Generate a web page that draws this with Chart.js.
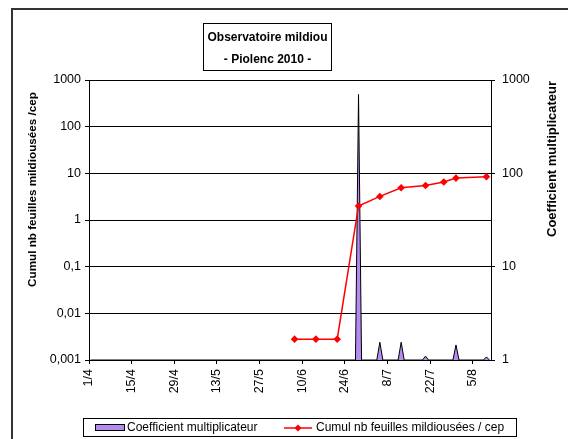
<!DOCTYPE html>
<html><head><meta charset="utf-8">
<script src="https://cdn.jsdelivr.net/npm/chart.js@4/dist/chart.umd.min.js"></script>
<style>html,body{margin:0;padding:0;background:#fff;overflow:hidden}#wrap{width:568px;height:439px;position:relative}canvas{display:block}</style>
</head><body><div id="wrap"><canvas id="c" width="568" height="439" style="width:568px;height:439px"></canvas></div>
<script>
const chartTitle = ['Observatoire mildiou', '- Piolenc 2010 -'];
const leftAxisTitle = 'Cumul nb feuilles mildiousées /cep';
const rightAxisTitle = 'Coefficient multiplicateur';
const seriesNames = ['Coefficient multiplicateur', 'Cumul nb feuilles mildiousées / cep'];
const axisFirstDate = '1/4';
const axisLastDate = '10/8';
const xTickLabels = ['1/4','15/4','29/4','13/5','27/5','10/6','24/6','8/7','22/7','5/8'];
const leftTickValues = [0.001, 0.01, 0.1, 1, 10, 100, 1000];
const leftTickLabels = ['0,001','0,01','0,1','1','10','100','1000'];
const rightTickValues = [1, 10, 100, 1000];
const rightTickLabels = ['1','10','100','1000'];
const coefDates = ['1/4','27/6','28/6','29/6','4/7','5/7','6/7','11/7','12/7','13/7','19/7','20/7','21/7','29/7','30/7','31/7','8/8','9/8','10/8'];
const coefValues = [1, 1, 700, 1, 1, 1.55, 1, 1, 1.55, 1, 1, 1.1, 1, 1, 1.45, 1, 1, 1.08, 1];
const cumulDates = ['7/6','14/6','21/6','28/6','5/7','12/7','20/7','26/7','30/7','9/8'];
const cumulValues = [0.0028, 0.0028, 0.0028, 2, 3.2, 4.9, 5.5, 6.5, 7.9, 8.5];

const FONT = "'Liberation Sans', Arial, sans-serif";
const AREA_COLOR = '#B48CF0';

function dayIndex(s) {
  const [d, m] = s.split('/').map(Number);
  const [d0, m0] = axisFirstDate.split('/').map(Number);
  return Math.round((Date.UTC(2010, m - 1, d) - Date.UTC(2010, m0 - 1, d0)) / 86400000);
}
const xMax = dayIndex(axisLastDate) + 1;
const xTickValues = xTickLabels.map(dayIndex);

const coefData = coefDates.map((d, i) => ({ x: dayIndex(d) + 0.5, y: coefValues[i] }));
const cumulData = cumulDates.map((d, i) => ({ x: dayIndex(d) + 0.5, y: cumulValues[i] }));

const decor = {
  id: 'decor',
  afterDraw(chart) {
    const ctx = chart.ctx;
    ctx.save();
    ctx.strokeStyle = '#333';
    ctx.lineWidth = 2;
    ctx.beginPath();
    ctx.moveTo(12, 439); ctx.lineTo(12, 9); ctx.lineTo(568, 9);
    ctx.stroke();
    ctx.lineWidth = 1;
    ctx.strokeStyle = '#000';
    ctx.fillStyle = '#fff';
    ctx.fillRect(203.5, 23.5, 128, 47);
    ctx.strokeRect(203.5, 23.5, 128, 47);
    ctx.fillStyle = '#000';
    ctx.font = 'bold 12px ' + FONT;
    ctx.textAlign = 'center';
    ctx.textBaseline = 'alphabetic';
    ctx.fillText(chartTitle[0], 267.5, 41);
    ctx.fillText(chartTitle[1], 267.5, 63);
    ctx.textBaseline = 'middle';
    ctx.font = 'bold 11.7px ' + FONT;
    ctx.save();
    ctx.translate(33, 189.5); ctx.rotate(-Math.PI / 2);
    ctx.fillText(leftAxisTitle, 0, 0);
    ctx.restore();
    ctx.font = 'bold 13px ' + FONT;
    ctx.save();
    ctx.translate(552, 159); ctx.rotate(-Math.PI / 2);
    ctx.fillText(rightAxisTitle, 0, 0);
    ctx.restore();
    ctx.strokeStyle = '#000';
    ctx.fillStyle = '#fff';
    ctx.fillRect(83.5, 418.5, 433, 18);
    ctx.strokeRect(83.5, 418.5, 433, 18);
    ctx.fillStyle = AREA_COLOR;
    ctx.fillRect(95.5, 424.5, 29, 6);
    ctx.strokeRect(95.5, 424.5, 29, 6);
    ctx.fillStyle = '#000';
    ctx.font = '12px ' + FONT;
    ctx.textAlign = 'left';
    ctx.fillText(seriesNames[0], 127, 428);
    ctx.strokeStyle = '#FF0000';
    ctx.lineWidth = 1.5;
    ctx.beginPath(); ctx.moveTo(284, 428); ctx.lineTo(312, 428); ctx.stroke();
    ctx.fillStyle = '#FF0000';
    ctx.beginPath();
    ctx.moveTo(298, 424.5); ctx.lineTo(301.5, 428); ctx.lineTo(298, 431.5); ctx.lineTo(294.5, 428); ctx.closePath();
    ctx.fill();
    ctx.fillStyle = '#000';
    ctx.fillText(seriesNames[1], 316, 428);
    ctx.restore();
  }
};

new Chart(document.getElementById('c'), {
  type: 'line',
  data: {
    datasets: [
      {
        label: seriesNames[1],
        data: cumulData,
        yAxisID: 'y',
        borderColor: '#FF0000',
        backgroundColor: '#FF0000',
        borderWidth: 1.5,
        pointStyle: 'rectRot',
        pointRadius: 3.8,
        pointBackgroundColor: '#FF0000',
        pointBorderColor: '#FF0000',
        pointBorderWidth: 0,
        fill: false,
        tension: 0,
        order: 0
      },
      {
        label: seriesNames[0],
        data: coefData,
        yAxisID: 'y1',
        borderColor: '#000',
        backgroundColor: AREA_COLOR,
        borderWidth: 1,
        pointRadius: 0,
        fill: 'start',
        tension: 0,
        order: 1
      }
    ]
  },
  options: {
    responsive: false,
    maintainAspectRatio: false,
    animation: false,
    devicePixelRatio: 1,
    layout: { padding: { top: 80, left: 0, right: 0, bottom: 0 } },
    plugins: { legend: { display: false }, title: { display: false }, tooltip: { enabled: false } },
    scales: {
      x: {
        type: 'linear',
        min: 0,
        max: xMax,
        afterBuildTicks: s => { s.ticks = xTickValues.map(v => ({ value: v })); },
        afterFit: s => { s.height = 79; },
        grid: { drawOnChartArea: false, drawTicks: true, tickLength: 4, color: '#000' },
        border: { display: true, color: '#000', width: 1 },
        ticks: {
          autoSkip: false, maxRotation: 90, minRotation: 90, padding: 5,
          color: '#000', font: { family: FONT, size: 12.5 },
          callback: (v) => { const i = xTickValues.indexOf(v); return i >= 0 ? xTickLabels[i] : ''; }
        }
      },
      y: {
        type: 'logarithmic',
        position: 'left',
        min: 0.001,
        max: 1000,
        afterBuildTicks: s => { s.ticks = leftTickValues.map(v => ({ value: v })); },
        afterFit: s => { s.width = 89; },
        grid: { drawOnChartArea: true, drawTicks: true, tickLength: 4, color: '#000', lineWidth: 1 },
        border: { display: true, color: '#000', width: 1 },
        ticks: {
          padding: 4, color: '#000', font: { family: FONT, size: 12.5 },
          callback: (v, i) => leftTickLabels[i]
        }
      },
      y1: {
        type: 'logarithmic',
        position: 'right',
        min: 1,
        max: 1000,
        afterBuildTicks: s => { s.ticks = rightTickValues.map(v => ({ value: v })); },
        afterFit: s => { s.width = 77; },
        grid: { drawOnChartArea: false, drawTicks: true, tickLength: 4, color: '#000' },
        border: { display: true, color: '#000', width: 1 },
        ticks: {
          padding: 7, color: '#000', font: { family: FONT, size: 12.5 },
          callback: (v, i) => rightTickLabels[i]
        }
      }
    }
  },
  plugins: [decor]
});
</script>
</body></html>
